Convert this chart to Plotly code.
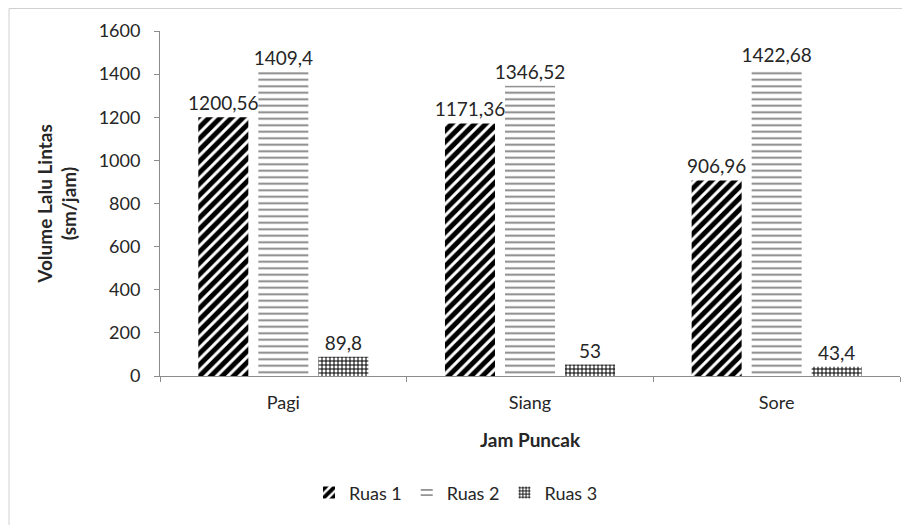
import plotly.graph_objects as go

categories = ["Pagi", "Siang", "Sore"]
ruas1 = [1200.56, 1171.36, 906.96]
ruas2 = [1409.4, 1346.52, 1422.68]
ruas3 = [89.8, 53, 43.4]
series_names = ["Ruas 1", "Ruas 2", "Ruas 3"]
y_ticks = [0, 200, 400, 600, 800, 1000, 1200, 1400, 1600]


def fmt(v):
    return f"{v:g}".replace(".", ",")


FONT = "Lato, 'Open Sans', sans-serif"
TXT = "#262626"
FS = 18

styles = [
    dict(shape="/", fgcolor="#000000", bgcolor="white", fgopacity=1, size=8, solidity=0.62),
    dict(shape="-", fgcolor="#808080", bgcolor="white", fgopacity=1, size=6.5, solidity=0.28),
    dict(shape="+", fgcolor="#000000", bgcolor="white", fgopacity=1, size=4, solidity=0.45),
]

# page body has an 8px default margin, so figure coords = screen coords - 8
L, T = 152, 23
PW, PH = 740, 345

fig = go.Figure()
for name, vals, st in zip(series_names, [ruas1, ruas2, ruas3], styles):
    fig.add_trace(go.Bar(
        x=categories, y=vals, name=name,
        marker=dict(color="white", line=dict(width=0), pattern=st),
        text=[fmt(v) for v in vals], textposition="outside",
        constraintext="none",
        textfont=dict(family=FONT, size=19, color=TXT),
        cliponaxis=False,
    ))

fig.update_layout(
    width=910, height=525,
    margin=dict(l=L, r=910 - L - PW, t=T, b=525 - T - PH),
    paper_bgcolor="white", plot_bgcolor="white",
    barmode="group", bargap=0.27, bargroupgap=0.1667,
    font=dict(family=FONT, size=FS, color=TXT),
    showlegend=True,
    legend=dict(orientation="h", x=0.40, xanchor="center", y=-0.285, yanchor="top",
                font=dict(family=FONT, size=FS, color=TXT)),
    xaxis=dict(
        automargin=False,
        showline=True, linecolor="#8c8c8c", linewidth=1,
        ticks="outside", tickson="boundaries", ticklen=5, tickcolor="#8c8c8c",
        ticklabelstandoff=10,
        tickfont=dict(family=FONT, size=FS, color=TXT),
        title=dict(text="<b>Jam Puncak</b>", font=dict(family=FONT, size=19, color=TXT), standoff=22),
        showgrid=False,
    ),
    yaxis=dict(
        automargin=False,
        range=[0, 1600], tickvals=y_ticks,
        showline=True, linecolor="#8c8c8c", linewidth=1,
        ticks="outside", ticklen=5, tickcolor="#8c8c8c",
        ticklabelstandoff=10,
        tickfont=dict(family=FONT, size=FS, color=TXT),
        title=dict(text="<b>Volume Lalu Lintas<br>(sm/jam)</b>",
                   font=dict(family=FONT, size=19, color=TXT), standoff=16),
        showgrid=False, zeroline=False,
    ),
    shapes=[dict(type="rect", xref="paper", yref="paper",
                 x0=(1 - L) / PW, x1=(915 - L) / PW,
                 y0=-(540 - T - PH) / PH, y1=1 + (T - 0.5) / PH,
                 line=dict(color="#d0d0d0", width=1), layer="below")],
)

fig.write_html("out.html")
